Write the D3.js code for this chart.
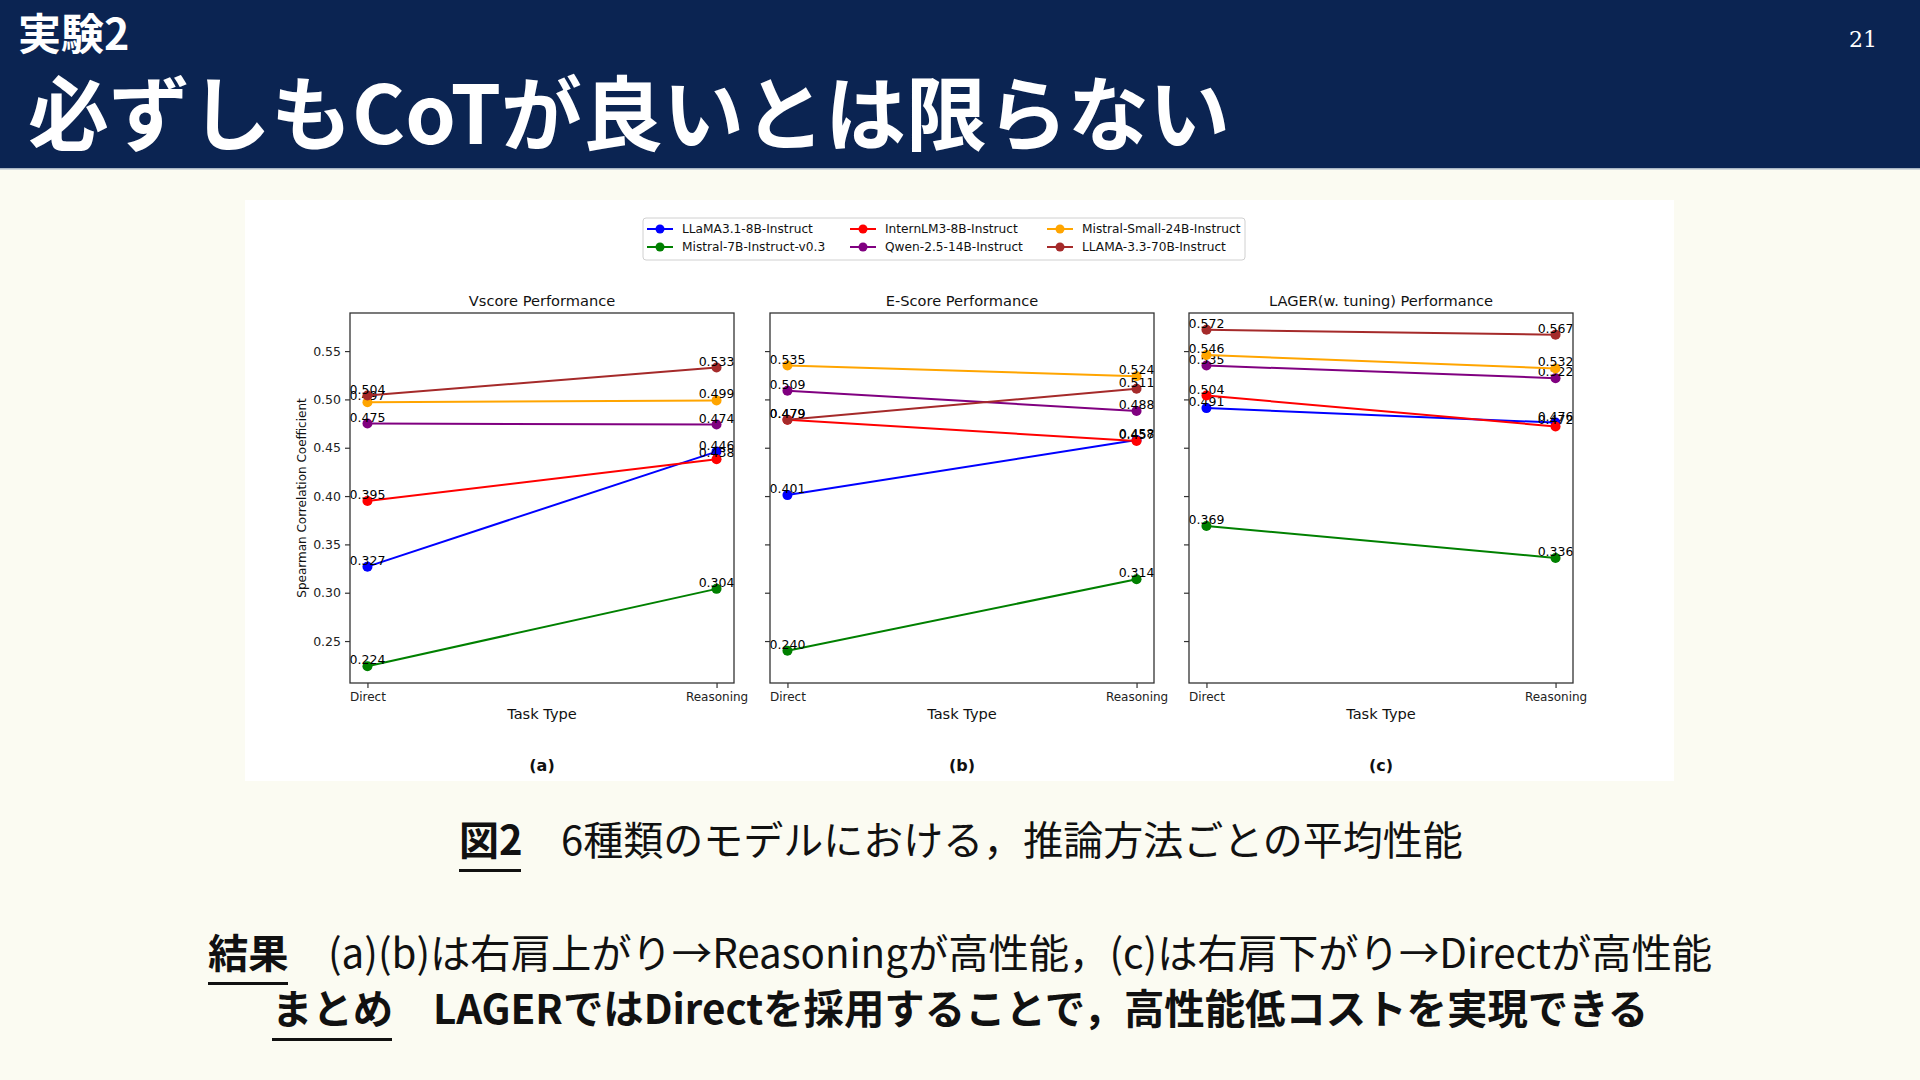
<!DOCTYPE html>
<html>
<head>
<meta charset="utf-8">
<script src="https://cdn.jsdelivr.net/npm/d3@7"></script>
<style>
  html, body { margin: 0; padding: 0; background: #fbfbf2; }
  svg { display: block; }
  .jp { font-family: "Noto Sans CJK JP", "Noto Sans", sans-serif; }
  .mpl { font-family: "DejaVu Sans", sans-serif; }
</style>
</head>
<body>
<svg id="slide" width="1920" height="1080"></svg>
<script>
const categories = ['Direct', 'Reasoning']
const models = [
  'LLaMA3.1-8B-Instruct',
  'Mistral-7B-Instruct-v0.3',
  'InternLM3-8B-Instruct',
  'Qwen-2.5-14B-Instruct',
  'Mistral-Small-24B-Instruct',
  'LLAMA-3.3-70B-Instruct',
]
const modelColors = ['#0000ff', '#008000', '#ff0000', '#800080', '#ffa500', '#a52a2a']

// values per model: [Direct, Reasoning]
const vscoreValues = [[0.327, 0.446], [0.224, 0.304], [0.395, 0.438], [0.475, 0.474], [0.497, 0.499], [0.504, 0.533]]
const escoreValues = [[0.401, 0.458], [0.240, 0.314], [0.479, 0.457], [0.509, 0.488], [0.535, 0.524], [0.479, 0.511]]
const lagerValues = [[0.491, 0.476], [0.369, 0.336], [0.504, 0.472], [0.535, 0.522], [0.546, 0.532], [0.572, 0.567]]

const panelTitles = ['Vscore Performance', 'E-Score Performance', 'LAGER(w. tuning) Performance']
const panelTags = ['(a)', '(b)', '(c)']
const yTicks = [0.25, 0.30, 0.35, 0.40, 0.45, 0.50, 0.55]

const headerSmall = '実験2'
const headerTitle = '必ずしもCoTが良いとは限らない'
const pageNumber = '21'

const svg = d3.select('#slide')

// ---- header band
svg.append('rect').attr('x', 0).attr('y', 0).attr('width', 1920).attr('height', 168).attr('fill', '#0b2452')
svg.append('rect').attr('x', 0).attr('y', 168).attr('width', 1920).attr('height', 1.5).attr('fill', '#a9b6c4')
svg.append('text').attr('class', 'jp').attr('x', 18).attr('y', 50)
  .attr('fill', '#fff').style('font-size', '43px').style('font-weight', 700).text(headerSmall)
svg.append('text').attr('class', 'jp').attr('x', 28).attr('y', 144)
  .attr('fill', '#fff').style('font-size', '81px').style('font-weight', 700).text(headerTitle)
svg.append('text').attr('x', 1877).attr('y', 47).attr('text-anchor', 'end')
  .attr('fill', '#fff').style('font-family', '"DejaVu Serif", "Liberation Serif", serif')
  .style('font-size', '22px').text(pageNumber)

// ---- figure area
svg.append('rect').attr('x', 245).attr('y', 200).attr('width', 1429).attr('height', 581).attr('fill', '#fff')

const allValues = [vscoreValues, escoreValues, lagerValues].flat(2)
const [vMin, vMax] = d3.extent(allValues)
const pad = (vMax - vMin) * 0.05
const plotTop = 313
const plotBottom = 683
const y = d3.scaleLinear().domain([vMin - pad, vMax + pad]).range([plotBottom, plotTop])

const panelLefts = [350, 770, 1189]
const panelWidth = 384
const panelData = [vscoreValues, escoreValues, lagerValues]

panelData.forEach((values, pi) => {
  const left = panelLefts[pi]
  const x = d3.scalePoint().domain(categories).range([left, left + panelWidth]).padding(0.05)
  const g = svg.append('g').attr('class', 'mpl')

  g.append('rect').attr('x', left).attr('y', plotTop).attr('width', panelWidth).attr('height', plotBottom - plotTop)
    .attr('fill', '#fff')

  const series = values.map((v, i) => ({ model: models[i], color: modelColors[i], points: v.map((val, k) => ({ cat: categories[k], val })) }))

  const line = d3.line().x((d) => x(d.cat)).y((d) => y(d.val))
  const sg = g.selectAll('g.series').data(series).enter().append('g').attr('class', 'series')
  sg.append('path').attr('d', (d) => line(d.points)).attr('fill', 'none')
    .attr('stroke', (d) => d.color).attr('stroke-width', 2)
  sg.selectAll('circle').data((d) => d.points.map((p) => ({ ...p, color: d.color }))).enter().append('circle')
    .attr('cx', (d) => x(d.cat)).attr('cy', (d) => y(d.val)).attr('r', 5).attr('fill', (d) => d.color)
  sg.selectAll('text.val').data((d) => d.points).enter().append('text').attr('class', 'val')
    .attr('x', (d) => x(d.cat)).attr('y', (d) => y(d.val) - 2).attr('text-anchor', 'middle')
    .style('font-size', '12.5px').attr('fill', '#000').text((d) => d3.format('.3f')(d.val))

  // y axis (shared: labels only on the first panel)
  const yAxis = d3.axisLeft(y).tickValues(yTicks).tickSize(5).tickPadding(4)
    .tickFormat(pi === 0 ? d3.format('.2f') : () => '')
  const ya = g.append('g').attr('transform', `translate(${left},0)`).call(yAxis)
  ya.select('.domain').remove()
  ya.selectAll('line').attr('stroke', '#333').attr('stroke-width', 1.2)
  ya.selectAll('text').style('font-size', '12.5px').style('font-family', '"DejaVu Sans", sans-serif').attr('fill', '#222')

  // x axis
  const xAxis = d3.axisBottom(x).tickSize(5).tickPadding(4)
  const xa = g.append('g').attr('transform', `translate(0,${plotBottom})`).call(xAxis)
  xa.select('.domain').remove()
  xa.selectAll('line').attr('stroke', '#333').attr('stroke-width', 1.2)
  xa.selectAll('text').style('font-size', '12px').style('font-family', '"DejaVu Sans", sans-serif').attr('fill', '#222')

  // spines
  g.append('rect').attr('x', left).attr('y', plotTop).attr('width', panelWidth).attr('height', plotBottom - plotTop)
    .attr('fill', 'none').attr('stroke', '#333').attr('stroke-width', 1.3)

  const cx = left + panelWidth / 2
  g.append('text').attr('x', cx).attr('y', 306).attr('text-anchor', 'middle')
    .style('font-size', '14.6px').attr('fill', '#111').text(panelTitles[pi])
  g.append('text').attr('x', cx).attr('y', 719).attr('text-anchor', 'middle')
    .style('font-size', '14.6px').attr('fill', '#111').text('Task Type')
  g.append('text').attr('x', cx).attr('y', 771).attr('text-anchor', 'middle')
    .style('font-size', '16px').style('font-weight', 700).attr('fill', '#111').text(panelTags[pi])
})

svg.append('text').attr('class', 'mpl')
  .attr('transform', `translate(306,${(plotTop + plotBottom) / 2}) rotate(-90)`)
  .attr('text-anchor', 'middle').style('font-size', '12px').attr('fill', '#111')
  .text('Spearman Correlation Coefficient')

// ---- legend (3 columns, filled column-wise)
const legend = svg.append('g').attr('class', 'mpl')
legend.append('rect').attr('x', 643).attr('y', 218).attr('width', 602).attr('height', 42).attr('rx', 3)
  .attr('fill', '#fff').attr('stroke', '#d0d0d0')
const colX = [647, 850, 1047]
const rowY = [229, 247]
models.forEach((m, i) => {
  const lx = colX[Math.floor(i / 2)]
  const ly = rowY[i % 2]
  legend.append('line').attr('x1', lx).attr('x2', lx + 26).attr('y1', ly).attr('y2', ly)
    .attr('stroke', modelColors[i]).attr('stroke-width', 2)
  legend.append('circle').attr('cx', lx + 13).attr('cy', ly).attr('r', 4.5).attr('fill', modelColors[i])
  legend.append('text').attr('x', lx + 35).attr('y', ly + 4).style('font-size', '12.2px').attr('fill', '#111').text(m)
})

// ---- caption and summary text
function labelled(x, yPos, head, body, bodyX, bold, headW, size) {
  const t = svg.append('g').attr('class', 'jp')
  t.append('text').attr('x', x).attr('y', yPos).style('font-size', `${size}px`).style('font-weight', 700)
    .attr('fill', '#111').text(head)
  t.append('rect').attr('x', x).attr('y', yPos + 14).attr('width', headW).attr('height', 3).attr('fill', '#111')
  t.append('text').attr('x', bodyX).attr('y', yPos).style('font-size', `${size}px`)
    .style('font-weight', bold ? 700 : 400).attr('fill', '#111').text(body)
}
labelled(459, 855, '図2', '6種類のモデルにおける，推論方法ごとの平均性能', 561, false, 62, 40)
labelled(208, 968, '結果', '(a)(b)は右肩上がり→Reasoningが高性能，(c)は右肩下がり→Directが高性能', 328, false, 80, 40.3)
labelled(272, 1024, 'まとめ', 'LAGERではDirectを採用することで，高性能低コストを実現できる', 433, true, 120, 40.4)
</script>
</body>
</html>
